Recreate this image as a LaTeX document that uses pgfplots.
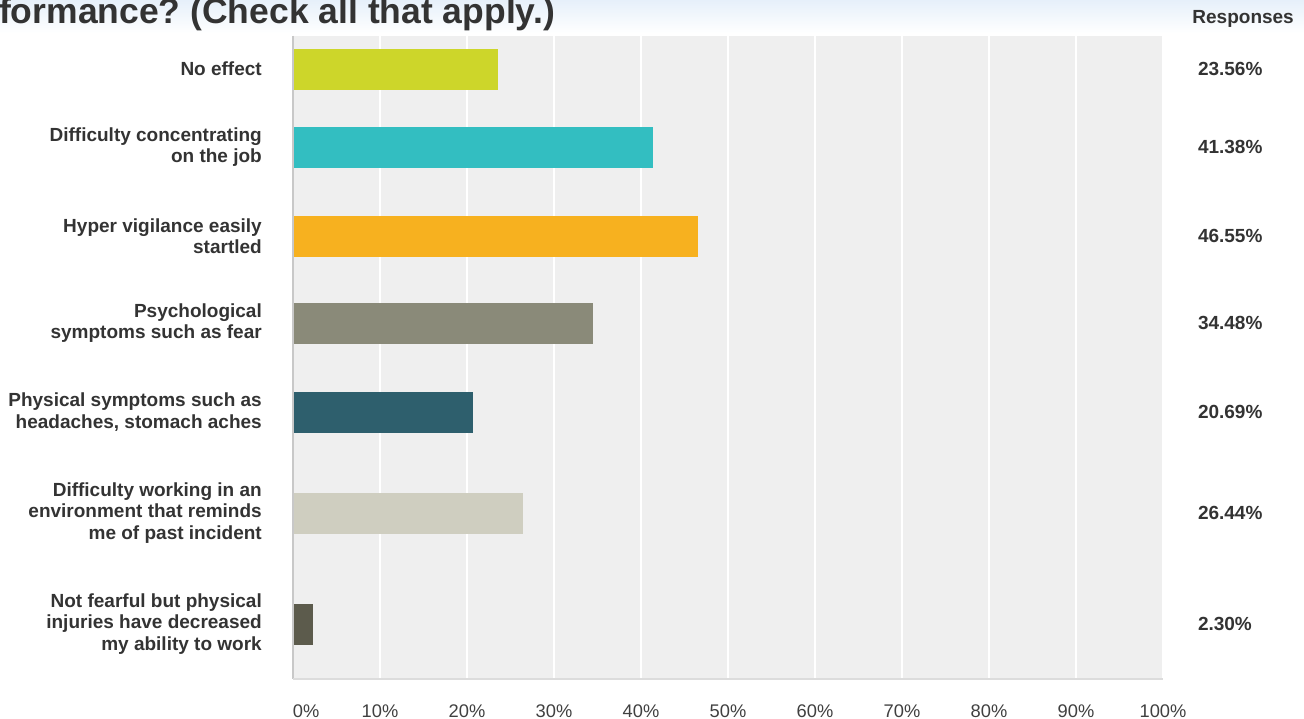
\documentclass[border=0pt]{standalone}
\usepackage{pgfplots}
\pgfplotsset{compat=1.18}
\usepackage{fontspec}
\setmainfont{Liberation Sans}
\frenchspacing
\definecolor{txt}{HTML}{333333}
\definecolor{ticktxt}{HTML}{404040}
\definecolor{plotbg}{HTML}{EFEFEF}
\definecolor{topblue}{HTML}{E6F0FA}
\definecolor{leftline}{HTML}{C8C8C8}
\definecolor{botline}{HTML}{DCDCDC}
\definecolor{cA}{HTML}{CDD62A}
\definecolor{cB}{HTML}{33BEC1}
\definecolor{cC}{HTML}{F7B11F}
\definecolor{cD}{HTML}{8A8A79}
\definecolor{cE}{HTML}{2E5F6D}
\definecolor{cF}{HTML}{CFCEC0}
\definecolor{cG}{HTML}{5C5B4C}
\begin{document}
\begin{tikzpicture}
\path[use as bounding box] (0pt,0pt) rectangle (1304pt,-719pt);
\shade[top color=topblue, bottom color=white] (0pt,0pt) rectangle (1304pt,-33pt);
\node[anchor=base east, font=\fontsize{35.5}{40}\selectfont\bfseries, text=txt, inner sep=0pt] at (555pt,-24pt) {formance? (Check all that apply.)};
\node[anchor=base east, font=\fontsize{19}{21}\selectfont\bfseries, text=txt, inner sep=0pt] at (1294pt,-24pt) {Responses};
\begin{axis}[
  at={(293pt,-35.5pt)}, anchor=north west,
  scale only axis, width=870pt, height=643pt,
  xmin=0, xmax=100, ymin=35.5, ymax=678.5, y dir=reverse,
  axis background/.style={fill=plotbg},
  axis line style={draw=none},
  clip=false,
  xmajorgrids, ymajorgrids=false,
  grid style={white, line width=2pt},
  major tick length=0pt,
  xtick={0,10,...,100},
  xticklabels={\hphantom{0\%}0\%,10\%,20\%,30\%,40\%,50\%,60\%,70\%,80\%,90\%,100\%},
  xticklabel style={anchor=base, yshift=-39pt, inner sep=0pt, font=\fontsize{18.3}{21}\selectfont, text=ticktxt},
  ytick={69,147,236,323,412,513,624},
  yticklabels={{No effect},
    {Difficulty concentrating\\on the job},
    {Hyper vigilance easily\\startled},
    {Psychological\\symptoms such as fear},
    {Physical symptoms such as\\headaches, stomach aches},
    {Difficulty working in an\\environment that reminds\\me of past incident},
    {Not fearful but physical\\injuries have decreased\\my ability to work}},
  yticklabel style={anchor=east, align=right, inner sep=0pt, xshift=-31pt, font=\fontsize{19}{21.5}\selectfont\bfseries, text=txt},
]
\addplot[xbar, bar shift=0pt, bar width=41, fill=cA, draw=none] coordinates {(23.56,69)};
\addplot[xbar, bar shift=0pt, bar width=41, fill=cB, draw=none] coordinates {(41.38,147)};
\addplot[xbar, bar shift=0pt, bar width=41, fill=cC, draw=none] coordinates {(46.55,236)};
\addplot[xbar, bar shift=0pt, bar width=41, fill=cD, draw=none] coordinates {(34.48,323)};
\addplot[xbar, bar shift=0pt, bar width=41, fill=cE, draw=none] coordinates {(20.69,412)};
\addplot[xbar, bar shift=0pt, bar width=41, fill=cF, draw=none] coordinates {(26.44,513)};
\addplot[xbar, bar shift=0pt, bar width=41, fill=cG, draw=none] coordinates {(2.30,624)};
\draw[leftline, line width=2pt] (axis cs:0,35.5) -- (axis cs:0,678.5);
\draw[botline, line width=2pt] (axis cs:0,678.5) -- (axis cs:100,678.5);
\begin{scope}[every node/.style={anchor=west, inner sep=0pt, font=\fontsize{19}{21.5}\selectfont\bfseries, text=txt}]
\node at (axis cs:104.0,69) {23.56\%};
\node at (axis cs:104.0,147) {41.38\%};
\node at (axis cs:104.0,236) {46.55\%};
\node at (axis cs:104.0,323) {34.48\%};
\node at (axis cs:104.0,412) {20.69\%};
\node at (axis cs:104.0,513) {26.44\%};
\node at (axis cs:104.0,624) {2.30\%};
\end{scope}
\end{axis}
\end{tikzpicture}
\end{document}
